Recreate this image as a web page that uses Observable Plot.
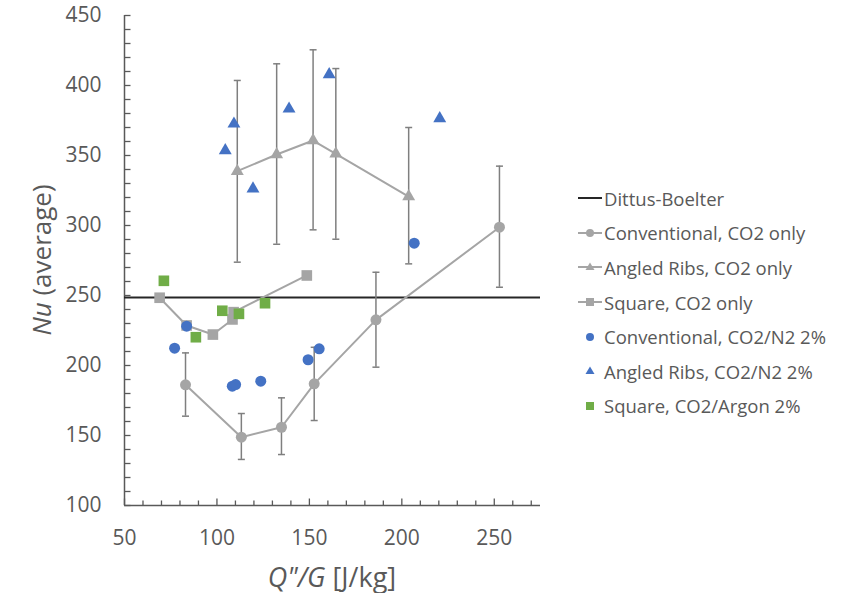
<!DOCTYPE html>
<html>
<head>
<meta charset="utf-8">
<script src="https://cdn.jsdelivr.net/npm/d3@7"></script>
<script src="https://cdn.jsdelivr.net/npm/@observablehq/plot@0.6"></script>
<style>
  body { margin: 0; background: white; font-family: "Open Sans", sans-serif; }
  #wrap { position: relative; width: 864px; height: 593px; overflow: hidden; }
  .ttl { position: absolute; color: #595959; white-space: nowrap; }
  #legend { position: absolute; left: 577px; top: 181px; color: #595959; font-size: 18.5px; }
  .row { height: 34.6px; display: flex; align-items: center; white-space: nowrap; }
  .row svg { margin-right: 1px; }
</style>
</head>
<body>
<div id="wrap"></div>
<script>
// ---- data ----
const dittusBoelter = 248.5;

const convX  = [83.0, 113.2, 134.9, 152.6, 186.0, 252.8];
const convY  = [186.2, 148.8, 155.9, 186.9, 232.6, 298.8];
const convHi = [209.0, 165.7, 176.9, 213.0, 266.6, 342.4];
const convLo = [163.8, 132.9, 136.4, 160.7, 198.8, 255.9];

const ribsX  = [111.0, 132.3, 152.0, 164.3, 203.7];
const ribsY  = [338.8, 350.7, 360.7, 351.2, 320.7];
const ribsHi = [403.6, 415.5, 425.5, 412.1, 370.0];
const ribsLo = [273.8, 286.6, 296.9, 290.2, 272.6];

const sqX = [69.0, 83.6, 97.8, 108.4, 109.0, 148.6];
const sqY = [248.4, 228.6, 222.1, 232.9, 238.1, 264.3];

const n2ConvX = [77.1, 83.6, 108.3, 110.1, 123.7, 149.3, 155.3, 206.7];
const n2ConvY = [212.4, 228.1, 185.2, 186.4, 188.8, 204.1, 211.9, 287.4];

const n2RibsX = [104.5, 109.2, 119.5, 139.0, 160.7, 220.5];
const n2RibsY = [353.6, 372.6, 326.2, 383.3, 407.9, 376.4];

const arX = [71.3, 88.6, 102.9, 111.9, 126.0];
const arY = [260.5, 220.2, 239.1, 236.9, 244.5];

const xTicks = [50, 100, 150, 200, 250];
const yTicks = [100, 150, 200, 250, 300, 350, 400, 450];

const legendItems = [
  "Dittus-Boelter",
  "Conventional, CO2 only",
  "Angled Ribs, CO2 only",
  "Square, CO2 only",
  "Conventional, CO2/N2 2%",
  "Angled Ribs, CO2/N2 2%",
  "Square, CO2/Argon 2%"
];

// ---- helpers ----
const zip = (xs, ys) => xs.map((x, i) => ({x, y: ys[i]}));
const errs = (xs, lo, hi) => xs.map((x, i) => ({x, lo: lo[i], hi: hi[i]}));

const GRAY = "#a5a5a5", BLUE = "#4472c4", GREEN = "#70ad47", AXIS = "#595959", EBAR = "#7f7f7f";

const capSym = {draw(ctx) { ctx.moveTo(-3.5, 0); ctx.lineTo(3.5, 0); }};
const yTickSym = {draw(ctx) { ctx.moveTo(0, 0); ctx.lineTo(6, 0); }};
const xMinorSym = {draw(ctx) { ctx.moveTo(0, 0); ctx.lineTo(0, -5); }};
const xMajorSym = {draw(ctx) { ctx.moveTo(0, 0); ctx.lineTo(0, -7); }};

const conv = zip(convX, convY), convE = errs(convX, convLo, convHi);
const ribs = zip(ribsX, ribsY), ribsE = errs(ribsX, ribsLo, ribsHi);
const sq = zip(sqX, sqY);
const n2c = zip(n2ConvX, n2ConvY), n2r = zip(n2RibsX, n2RibsY), ar = zip(arX, arY);

const errMarks = (E) => [
  Plot.ruleX(E, {x: "x", y1: "lo", y2: "hi", stroke: EBAR, strokeWidth: 1.5}),
  Plot.dot(E, {x: "x", y: "lo", symbol: capSym, stroke: EBAR, strokeWidth: 1.5, r: 3}),
  Plot.dot(E, {x: "x", y: "hi", symbol: capSym, stroke: EBAR, strokeWidth: 1.5, r: 3})
];

const yMinor = d3.range(100, 451, 10);
const xMinor = d3.range(50, 275, 10).filter(v => v % 50 !== 0);

const chart = Plot.plot({
  width: 864, height: 593,
  marginLeft: 124, marginRight: 324, marginTop: 15, marginBottom: 88,
  x: {domain: [50, 275]},
  y: {domain: [100, 450]},
  style: {fontFamily: "Open Sans", color: AXIS, background: "white"},
  marks: [
    Plot.axisX({ticks: xTicks, tickSize: 0, tickPadding: 25, fontSize: 21, fill: AXIS, label: null}),
    Plot.axisY({ticks: yTicks, tickSize: 0, tickPadding: 23, fontSize: 21, fill: AXIS, label: null}),
    Plot.dot(yMinor, {x: () => 50, y: d => d, symbol: yTickSym, stroke: AXIS, strokeWidth: 1.3, r: 3}),
    Plot.dot(xMinor, {x: d => d, y: () => 100, symbol: xMinorSym, stroke: AXIS, strokeWidth: 1.3, r: 3}),
    Plot.dot(xTicks, {x: d => d, y: () => 100, symbol: xMajorSym, stroke: AXIS, strokeWidth: 1.3, r: 3}),
    Plot.ruleX([50], {stroke: AXIS, strokeWidth: 1.5}),
    Plot.ruleY([100], {stroke: AXIS, strokeWidth: 1.5}),
    Plot.ruleY([dittusBoelter], {stroke: "#262626", strokeWidth: 2}),
    ...errMarks(convE),
    ...errMarks(ribsE),
    Plot.line(conv, {x: "x", y: "y", stroke: GRAY, strokeWidth: 2}),
    Plot.dot(conv, {x: "x", y: "y", symbol: "circle", fill: GRAY, r: 5.5}),
    Plot.line(ribs, {x: "x", y: "y", stroke: GRAY, strokeWidth: 2}),
    Plot.dot(ribs, {x: "x", y: "y", symbol: "triangle", fill: GRAY, r: 4.8}),
    Plot.line(sq, {x: "x", y: "y", stroke: GRAY, strokeWidth: 2}),
    Plot.dot(sq, {x: "x", y: "y", symbol: "square", fill: GRAY, r: 6}),
    Plot.dot(n2c, {x: "x", y: "y", symbol: "circle", fill: BLUE, r: 5.5}),
    Plot.dot(n2r, {x: "x", y: "y", symbol: "triangle", fill: BLUE, r: 4.8}),
    Plot.dot(ar, {x: "x", y: "y", symbol: "square", fill: GREEN, r: 6})
  ]
});

const wrap = document.getElementById("wrap");
wrap.appendChild(chart);

// axis titles
const xt = document.createElement("div");
xt.className = "ttl";
xt.style.fontSize = "27px";
xt.innerHTML = '<i>Q"/G</i> [J/kg]';
xt.style.left = "332px"; xt.style.top = "576px";
xt.style.transform = "translate(-50%, -50%)";
wrap.appendChild(xt);

const yt = document.createElement("div");
yt.className = "ttl";
yt.style.fontSize = "26px";
yt.innerHTML = '<i>Nu</i> (average)';
yt.style.left = "41px"; yt.style.top = "260px";
yt.style.transform = "translate(-50%, -50%) rotate(-90deg)";
wrap.appendChild(yt);

// legend
const samples = [
  '<line x1="1" x2="25" y1="8" y2="8" stroke="#262626" stroke-width="2"/>',
  `<line x1="1" x2="25" y1="8" y2="8" stroke="${GRAY}" stroke-width="2"/><circle cx="13" cy="8" r="4" fill="${GRAY}"/>`,
  `<line x1="1" x2="25" y1="8" y2="8" stroke="${GRAY}" stroke-width="2"/><path d="M13,3.5L17.5,11H8.5Z" fill="${GRAY}"/>`,
  `<line x1="1" x2="25" y1="8" y2="8" stroke="${GRAY}" stroke-width="2"/><rect x="9" y="4" width="8" height="8" fill="${GRAY}"/>`,
  `<circle cx="13" cy="8" r="4" fill="${BLUE}"/>`,
  `<path d="M13,3.5L17.5,11H8.5Z" fill="${BLUE}"/>`,
  `<rect x="9" y="4" width="8" height="8" fill="${GREEN}"/>`
];
const lg = document.createElement("div");
lg.id = "legend";
legendItems.forEach((t, i) => {
  const r = document.createElement("div");
  r.className = "row";
  r.innerHTML = `<svg width="26" height="16">${samples[i]}</svg><span>${t}</span>`;
  lg.appendChild(r);
});
wrap.appendChild(lg);
</script>
</body>
</html>
